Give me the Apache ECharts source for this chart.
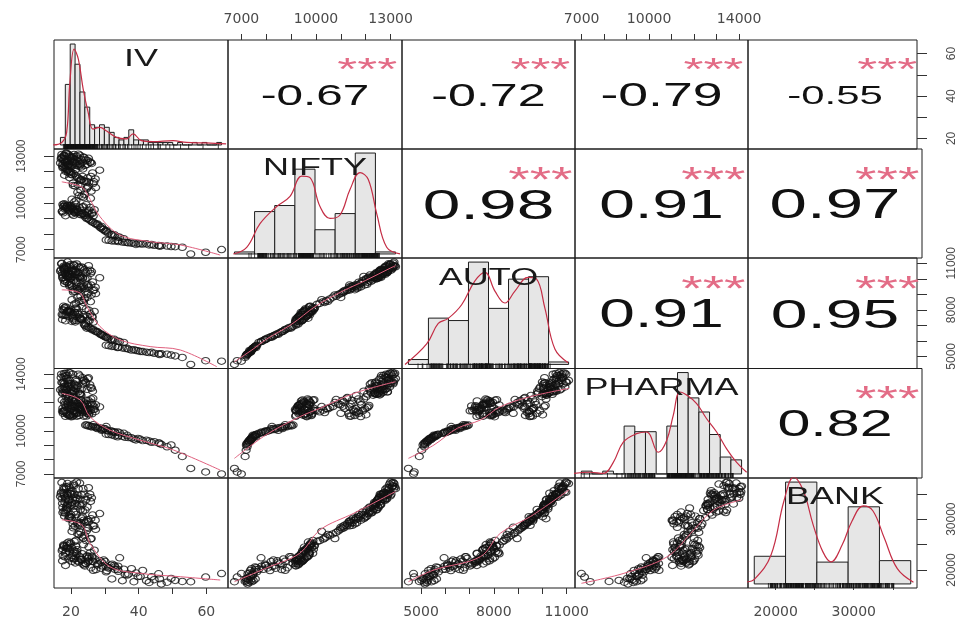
<!DOCTYPE html>
<html><head><meta charset="utf-8">
<script src="https://cdn.jsdelivr.net/npm/echarts@6/dist/echarts.min.js"></script>
<style>html,body{margin:0;padding:0;background:#fff}#c{width:958px;height:624px}</style>
</head><body><div id="c"></div>
<script>
// ---------- data ----------
const varNames = ['IV', 'NIFTY', 'AUTO', 'PHARMA', 'BANK'];

const iv = [18.2,17.6,19.1,20.3,18.9,17.4,19.6,21.2,20.5,18.0,17.3,18.6,19.4,20.8,22.1,21.5,22.8,19.9,18.4,17.9,20.1,21.7,18.8,19.3,23.4,17.8,20.6,19.0,22.5,18.1,21.0,24.2,19.7,17.2,
 24.8,25.6,23.9,22.6,24.4,26.1,17.5,18.5,23.0,25.2,21.9,20.2,22.2,16.9,
 19.5,20.8,18.3,21.6,22.4,23.8,17.9,19.2,24.6,20.1,18.7,21.9,28.5,20.4,19.8,23.1,17.6,22.7,18.9,25.3,
 25.9,24.0,26.4,22.1,20.6,23.5,27.2,18.1,21.2,19.6,
 21.5,23.2,22.0,24.6,20.7,25.8,22.9,26.5,24.0,21.0,27.3,23.7,25.1,
 18.2,19.6,21.3,17.8,20.5,22.7,24.1,18.9,19.3,20.9,23.5,17.6,21.8,25.4,18.5,20.2,22.3,26.6,19.0,21.1,23.9,18.0,20.7,22.0,19.4,24.8,17.9,21.6,20.0,23.0,
 26.9,25.7,24.5,17.5,17.7,18.4,19.9,21.4,22.9,26.2,18.6,20.8,23.3,25.0,
 24.3,25.4,25.9,27.1,27.4,28.6,28.9,30.1,30.6,31.8,32.2,33.9,34.4,35.6,26.6,29.7,
 25.0,26.3,28.0,29.4,31.0,33.0,
 30.4,32.1,33.0,35.2,36.0,37.9,38.6,40.5,41.2,43.1,43.8,45.9,46.7,49.6,50.8,52.9,
 31.2,34.0,37.0,39.8,44.6,
 55.4,59.8,64.5,
 19.2,20.4,18.3,21.8,23.1,17.9,19.8,22.7,24.9,18.7,20.9,25.8,17.1,21.3,23.6,19.0,
 20.0,22.9,18.5,24.9,21.4,26.8,19.3,23.4,
 22.4,26.0,20.3,24.8,
 19.1,21.0,23.7,18.3,20.3,25.3,22.5,17.4,24.4,19.7,26.3,21.7,18.8,23.2,
 24.7,27.8,30.4,32.8,29.1,
 33.8,36.6,39.2,42.3,46.2,48.4];
const nifty = [12420,12510,12380,12600,12720,12850,12930,12780,12650,13020,13110,13200,13080,12960,12870,12540,12450,12330,12690,12800,12890,13000,12560,12470,12610,12740,12820,13140,12360,12990,12580,12410,12700,12920,
 12480,12620,12910,13060,12750,12530,12380,13170,12300,12860,12670,12350,13130,12560,
 12050,11880,12210,11720,11560,11410,12280,12130,11350,11960,12170,11640,12100,11800,12010,11500,12250,11460,12070,11330,
 11700,11380,11920,11150,11260,12180,11540,11780,11090,11620,
 10150,10420,10680,10900,11120,10290,10810,11240,10560,10050,10980,10350,11060,
 9620,9480,9350,9780,9710,9260,9190,9850,9540,9430,9300,9900,9600,9220,9730,9660,9390,9170,9820,9510,9280,9940,9570,9450,9690,9330,9760,9410,9630,9240,
 9560,9710,9880,9470,9360,9180,9790,9920,9520,9310,9650,9200,9740,9420,
 9080,8930,8850,8690,8620,8440,8380,8190,8150,7990,7950,7810,7790,7700,8760,8290,
 9020,8760,8560,8310,8060,7880,
 7620,7560,7550,7480,7470,7410,7420,7370,7360,7300,7320,7260,7250,7200,7190,7150,
 7600,7520,7440,7390,7280,
 6720,6830,7000,
 12450,12880,12630,12390,12790,13050,12980,12510,12720,12330,13100,12600,12820,12440,12940,12710,
 11830,11450,12020,11600,12140,11350,11920,11700,
 10480,10760,10230,11000,
 9600,9400,9750,9870,9290,9530,9680,9460,9210,9810,9380,9580,9720,9330,
 8990,8650,8230,7960,8480,
 7580,7460,7330,7370,7220,7230];
const auto = [10340,10060,10110,10150,10600,10390,10800,10290,10550,10560,11000,10780,10700,10930,10420,10450,10010,10050,10340,10820,10530,10960,10180,10160,10090,10710,10440,11080,10080,10690,10570,10000,10300,10970,
 10060,10560,10580,10720,10380,10470,10240,10850,10170,10850,10290,10290,10790,10500,
 9650,9900,9830,9780,9300,9520,9920,10120,9600,9610,10240,9370,10070,9480,10010,9560,10100,9500,9780,9450,
 9610,9360,9800,9240,9290,10040,9460,9700,9180,9530,
 8420,8610,8820,8990,9150,8530,8870,9240,8700,8360,9050,8480,9100,
 7650,7880,7220,8230,7750,7490,7020,7890,7950,7310,7560,8010,7560,7290,8190,7660,7700,7210,7920,7850,7080,8100,7530,7820,7840,7590,7960,7310,8030,7400,
 7900,7740,8050,7380,7650,7300,7870,8120,7420,7580,7660,7420,8220,7290,
 6950,6860,6790,6640,6590,6450,6400,6260,6230,6110,6080,5970,5950,5900,6740,6320,
 6900,6710,6540,6350,6180,6010,
 5720,5640,5630,5540,5510,5410,5430,5320,5310,5240,5260,5170,5160,5080,5030,4930,
 5690,5580,5460,5360,5200,
 4480,4720,4690,
 10320,10480,10620,10050,10770,10650,10910,10180,10510,10230,10860,10350,10590,10410,10700,10450,
 9740,9390,9980,9620,9870,9280,10150,9450,
 8550,8960,8650,8800,
 7580,7830,7680,8150,7250,7970,7460,7700,7120,7920,7530,8070,7820,7360,
 6820,6600,6240,6100,6420,
 5570,5520,5380,5270,5120,5140];
const pharma = [13150,12700,13380,12620,13900,12980,13560,13250,12850,14050,13420,13700,14110,13100,12760,13620,12590,13020,12940,13820,13300,13480,12540,13210,13750,12880,13990,13560,12610,13330,12790,13450,12720,14000,
 12930,13260,13590,13870,13420,13010,12650,14060,12520,13740,13120,12700,13990,12900,
 11650,11420,12700,11250,11100,11050,13100,11800,11060,11560,12900,11320,11700,11020,11150,11480,13400,11950,12600,11230,
 12250,11900,12800,11600,12350,13300,11380,12050,11750,12500,
 11350,11580,11720,11900,12050,11480,12210,12300,11650,11450,11850,11300,12150,
 11880,11120,11650,11380,12180,11560,11420,11250,12030,11700,11790,11610,11050,11480,11300,12250,11930,11520,11150,12090,11760,11440,11200,11980,11080,11850,11360,12120,11010,11660,
 11520,11880,12160,11400,11250,11040,11970,12200,11480,11210,11690,11110,11830,11350,
 10420,10390,10310,10300,10240,10210,10140,10160,10050,10030,9950,9930,9870,9840,10440,10180,
 10360,10300,10260,10110,10000,9900,
 9780,9730,9660,9640,9560,9530,9440,9420,9330,9300,9210,9170,9060,9030,8660,8220,
 9760,9690,9550,9480,9250,
 7380,7130,6990,
 13350,12760,13900,13180,12950,13480,14080,12620,13680,12850,13320,13050,13760,12580,13540,13170,
 11850,12150,12420,11560,12980,11700,12250,11400,
 11560,12000,11720,11250,
 11920,11310,12030,11480,11780,11150,11600,12180,11420,11090,11860,11230,12110,11540,
 10430,10180,10320,9960,10060,
 9600,9700,9380,9350,9140,8900];
const bank = [33300,32300,32900,32800,35100,34000,36200,33700,34800,34900,37200,36000,36500,36900,34700,34200,31900,32700,33900,35900,35000,37300,32700,33800,33000,35200,34100,37000,32900,34600,34900,31800,35100,35300,
 32400,34900,34900,37100,33800,34200,33100,36400,32600,36200,34000,33300,36000,34500,
 30600,31400,31200,30900,29100,29800,31600,32200,29600,30300,32400,29300,31100,29800,30500,30200,31300,28800,31900,29500,
 30100,29300,30800,28800,29100,31600,29800,30600,28600,30300,
 25800,26500,27100,27700,28300,26100,27400,28700,26800,25600,28000,26300,28200,
 22600,23600,21400,24900,22900,22500,20800,25300,22200,23300,21200,24100,24000,21900,23500,24400,21600,21700,24400,23700,21000,24800,23900,21800,25500,22800,24600,23200,22500,22100,
 23900,23400,25800,21800,22800,20900,25300,24700,22100,22700,24300,22200,23200,21600,
 21300,22600,20450,22150,20100,21800,20350,21650,19900,20950,21150,20750,22400,20150,19950,21950,
 22250,21700,21250,20800,20400,20150,
 19650,18250,20600,17900,19150,20250,17700,18750,19900,17550,18650,19250,17260,18350,17950,17750,
 20450,19750,19200,18700,18100,
 17700,18600,19300,
 33600,35600,34300,32600,34800,36300,35400,33900,34400,32000,36600,33500,35000,33100,36000,34700,
 30900,29300,31700,29900,31400,28700,30100,30500,
 27000,26200,27600,28400,
 24200,22200,25000,23300,21700,24500,22700,23800,21300,25100,22500,23600,24800,22000,
 22600,21000,20700,20900,21500,
 20100,19000,19400,17900,18300,17600];

// correlation panels (upper triangle, row-major)
const corrPairs = [[0,1],[0,2],[0,3],[0,4],[1,2],[1,3],[1,4],[2,3],[2,4],[3,4]];
const corrValues = [-0.67,-0.72,-0.79,-0.55,0.98,0.91,0.97,0.91,0.95,0.82];
const corrStars = ['***','***','***','***','***','***','***','***','***','***'];

// histograms (breaks, counts) and density curves
const ivBreaks = [16,17.5,19,20.5,22,23.5,25,26.5,28,29.5,31,32.5,34,35.5,37,38.5,40,41.5,43,44.5,46,47.5,49,50.5,52,53.5,55,56.5,58,59.5,61,62.5,64,65.5];
const ivCounts = [3,24,40,32,21,15,8,7,8,7,5,3,2,3,6,2,2,2,1,1,1,1,1,0,1,0,0,1,0,1,0,0,1];
const ivDensity = [[13.8,0],[16.4,1],[17.9,5],[18.9,24.8],[20.2,38],[21.5,34],[23,22],[24.5,13],[26,6.3],[28.1,7],[30.2,5.5],[33.2,3],[36.3,2.4],[38.3,4.4],[40.9,1.7],[44.4,1.3],[50.6,1.7],[54.7,1],[60.8,0.8],[66.9,0.4]];
const niftyBreaks = [6000,7000,8000,9000,10000,11000,12000,13000,14000];
const niftyCounts = [1,21,24,42,12,20,50,1];
const niftyDensity = [[5943,0],[6609,3.3],[7269,15],[8098,23.5],[8759,28.5],[9340,38.6],[9752,37.8],[10249,23.5],[10745,17.6],[11242,19.3],[11738,31.9],[12235,40.3],[12647,36.9],[13064,20],[13561,3.3],[14222,0]];
const autoBreaks = [4000,5000,6000,7000,8000,9000,10000,11000,12000];
const autoCounts = [2,19,18,42,23,35,36,1];
const autoDensity = [[3830,0],[4912,8.4],[5491,16.8],[5990,18.9],[6659,24.5],[7323,34.3],[7822,37.8],[8321,30.1],[8820,25.2],[9319,30.1],[9982,35.7],[10402,35],[10816,23.1],[11315,6.3],[11978,0.7]];
const pharmaBreaks = [7000,7500,8000,8500,9000,9500,10000,10500,11000,11500,12000,12500,13000,13500,14000,14500];
const pharmaCounts = [1,0,1,0,17,15,15,0,17,36,27,22,14,6,5];
const pharmaDensity = [[6466,0],[7402,0.6],[8025,0.2],[8493,4.1],[8961,11.3],[9588,14.3],[10056,14.9],[10598,7.7],[10992,11.9],[11300,20.8],[11614,29.1],[11928,28],[12396,25],[12864,19.6],[13332,14.9],[13800,8.9],[14268,4.1],[14736,0.6]];
const bankBreaks = [15000,20000,25000,30000,35000,40000];
const bankCounts = [19,70,15,53,16];
const bankDensity = [[13534,1.2],[15086,3.5],[17678,19.9],[19742,57],[21294,73.4],[22846,64],[24398,40.8],[25950,22.2],[27243,15.2],[29054,26.9],[30606,43.1],[32422,53.6],[33974,50.1],[35774,31.5],[37854,10.5],[40430,1.2]];

// smoothing lines in the scatter panels
const smoothIvNifty = [[17.3,11350],[23.2,11030],[24.7,10610],[28.6,9110],[34.5,7940],[43.4,7510],[52.3,7300],[64.1,6650]];
const smoothIvAuto = [[17.3,9290],[22.7,9080],[24.7,8210],[28.6,6920],[34.5,6060],[43.4,5630],[52.3,5410],[63.1,4330]];
const smoothIvPharma = [[17.3,12650],[22.7,12190],[25.6,11010],[31.5,10070],[40.4,9370],[50.3,8670],[64.1,7260]];
const smoothIvBank = [[17.3,29870],[23.2,28880],[25.6,25270],[31.5,20650],[40.4,19350],[52.3,18680],[64.1,18030]];
const smoothNiftyAuto = [[6720,4650],[7500,5500],[8000,6100],[9000,7050],[10000,8250],[11000,9150],[12000,9900],[13000,10700],[13200,10850]];
const smoothNiftyPharma = [[6720,8085],[7980,9720],[9350,11010],[10160,11600],[11530,12650],[13200,13470]];
const smoothNiftyBank = [[6720,17700],[7980,20340],[9350,23300],[10160,27890],[11530,31190],[13200,35450]];
const smoothAutoPharma = [[4480,8085],[5530,9020],[6500,10200],[7450,10780],[8270,11710],[9510,12420],[11100,13000]];
const smoothAutoBank = [[4480,17700],[5530,20000],[7450,22630],[8270,27240],[9510,30520],[11100,35780]];
const smoothPharmaBank = [[6990,17380],[8880,19350],[10810,22630],[11990,27890],[12880,31840],[14100,33810]];

// axis ticks and labels
const ivTicks = [20,30,40,50,60];
const ivTickLabels = [20,40,60];
const niftyTicks = [7000,8000,9000,10000,11000,12000,13000];
const niftyTickLabels = [7000,10000,13000];
const autoTicks = [5000,6000,7000,8000,9000,10000,11000];
const autoTickLabels = [5000,8000,11000];
const pharmaTicks = [7000,8000,9000,10000,11000,12000,13000,14000];
const pharmaTickLabels = [7000,10000,14000];
const bankTicks = [20000,25000,30000,35000];
const bankTickLabels = [20000,30000];

// ---------- layout ----------
const colEdges = [54, 228, 402, 575, 748, 922];
const rowEdges = [40, 149, 258, 368.5, 478, 588];
const LABEL_STRETCH = 1.5;
const NUM_STRETCH = 1.6;

const allVars = [iv, nifty, auto, pharma, bank];
const ticksList = [ivTicks, niftyTicks, autoTicks, pharmaTicks, bankTicks];
const labelsList = [ivTickLabels, niftyTickLabels, autoTickLabels, pharmaTickLabels, bankTickLabels];
const hists = [
  {b: ivBreaks, n: ivCounts, d: ivDensity},
  {b: niftyBreaks, n: niftyCounts, d: niftyDensity},
  {b: autoBreaks, n: autoCounts, d: autoDensity},
  {b: pharmaBreaks, n: pharmaCounts, d: pharmaDensity},
  {b: bankBreaks, n: bankCounts, d: bankDensity}
];
const smooths = {
  '1-0': smoothIvNifty, '2-0': smoothIvAuto, '3-0': smoothIvPharma, '4-0': smoothIvBank,
  '2-1': smoothNiftyAuto, '3-1': smoothNiftyPharma, '4-1': smoothNiftyBank,
  '3-2': smoothAutoPharma, '4-2': smoothAutoBank, '4-3': smoothPharmaBank
};

function rng(a) { const mn = Math.min(...a), mx = Math.max(...a), d = mx - mn; return [mn - 0.04 * d, mx + 0.04 * d]; }
const ranges = allVars.map(rng);

const hiddenAxis = () => ({type: 'value', axisLine: {show: false}, axisTick: {show: false}, axisLabel: {show: false}, splitLine: {show: false}});
const fmt = v => String(v);

const grids = [], xAxes = [], yAxes = [], series = [], graphics = [];

for (let r = 0; r < 5; r++) {
  for (let c = 0; c < 5; c++) {
    const gi = r * 5 + c;
    grids.push({left: colEdges[c], top: rowEdges[r], width: colEdges[c + 1] - colEdges[c], height: rowEdges[r + 1] - rowEdges[r],
      show: true, borderColor: '#1c1c1c', borderWidth: 1, backgroundColor: 'rgba(0,0,0,0)'});
    const xa = Object.assign(hiddenAxis(), {gridIndex: gi, min: ranges[c][0], max: ranges[c][1], position: r === 0 ? 'top' : 'bottom'});
    if ((r === 4 && c % 2 === 0) || (r === 0 && c % 2 === 1)) {
      xa.axisTick = {show: true, inside: false, length: 6, lineStyle: {color: '#333', width: 1}, customValues: ticksList[c]};
      xa.axisLabel = {show: true, customValues: labelsList[c], margin: r === 0 ? 14 : 17, color: '#4a4a4a', fontFamily: 'DejaVu Sans', fontSize: 14, formatter: fmt};
    }
    const ya = Object.assign(hiddenAxis(), {gridIndex: gi, min: ranges[r][0], max: ranges[r][1], position: c === 0 ? 'left' : 'right'});
    if ((c === 0 && r % 2 === 1) || (c === 4 && r % 2 === 0)) {
      ya.axisTick = {show: true, inside: false, length: 10, lineStyle: {color: '#333', width: 1}, customValues: ticksList[r]};
      ya.axisLabel = {show: true, customValues: labelsList[r], rotate: 90, margin: c === 0 ? 26 : 29, color: '#4a4a4a', fontFamily: 'Liberation Sans', fontSize: 12, formatter: fmt};
    }
    xAxes.push(xa); yAxes.push(ya);
  }
}

// scatter panels (lower triangle)
for (let r = 1; r < 5; r++) {
  for (let c = 0; c < r; c++) {
    const gi = r * 5 + c;
    series.push({type: 'scatter', xAxisIndex: gi, yAxisIndex: gi, silent: true, symbol: 'circle', symbolSize: [8, 6.5],
      itemStyle: {color: 'rgba(0,0,0,0)', borderColor: '#111', borderWidth: 1.1},
      data: allVars[c].map((v, i) => [v, allVars[r][i]])});
    series.push({type: 'line', xAxisIndex: gi, yAxisIndex: gi, silent: true, showSymbol: false, smooth: 0.35,
      lineStyle: {color: '#e0607e', width: 1}, data: smooths[r + '-' + c], z: 3});
  }
}

// histogram panels (diagonal)
for (let k = 0; k < 5; k++) {
  const gi = k * 6;
  const h = hists[k];
  const span = h.b[h.b.length - 1] - h.b[0];
  const M = Math.max(...h.n);
  const hx = xAxes.length, hy = yAxes.length;
  xAxes.push(Object.assign(hiddenAxis(), {gridIndex: gi, min: h.b[0] - 0.04 * span, max: h.b[h.b.length - 1] + 0.04 * span}));
  yAxes.push(Object.assign(hiddenAxis(), {gridIndex: gi, min: -0.04 * M, max: 1.04 * M}));
  series.push({type: 'custom', xAxisIndex: hx, yAxisIndex: hy, silent: true,
    data: h.n.map((n, i) => [h.b[i], h.b[i + 1], n]),
    encode: {x: [0, 1], y: 2},
    renderItem: function (params, api) {
      const a = api.coord([api.value(0), api.value(2)]);
      const b = api.coord([api.value(1), 0]);
      return {type: 'rect', shape: {x: a[0], y: a[1], width: b[0] - a[0], height: b[1] - a[1]},
        style: {fill: '#e6e6e6', stroke: '#1e1e1e', lineWidth: 1}};
    }});
  series.push({type: 'line', xAxisIndex: hx, yAxisIndex: hy, silent: true, showSymbol: false, smooth: 0.4, clip: true,
    lineStyle: {color: '#c42d45', width: 1.2}, data: h.d, z: 4});
  series.push({type: 'scatter', xAxisIndex: hx, yAxisIndex: hy, silent: true, symbol: 'rect', symbolSize: [1, 5], symbolOffset: [0, -2.5],
    itemStyle: {color: '#111'}, data: allVars[k].map(v => [v, -0.04 * M])});
  // variable name
  graphics.push({type: 'text', silent: true, x: (colEdges[k] + colEdges[k + 1]) / 2, y: rowEdges[k] + 0.18 * (rowEdges[k + 1] - rowEdges[k]),
    scaleX: LABEL_STRETCH, z: 100,
    style: {text: varNames[k], font: '24px "Liberation Sans"', fill: '#1a1a1a', align: 'center', verticalAlign: 'middle', textAlign: 'center', textVerticalAlign: 'middle'}});
}

// correlation panels (upper triangle)
corrPairs.forEach(([r, c], i) => {
  const v = corrValues[i];
  const base = v < 0 ? 40 : 43;
  const size = base * (Math.abs(v) + 0.3) / 1.3;
  const starSize = base * 0.8;
  const x0 = colEdges[c], x1 = colEdges[c + 1], y0 = rowEdges[r], y1 = rowEdges[r + 1];
  graphics.push({type: 'text', silent: true, x: (x0 + x1) / 2, y: (y0 + y1) / 2 + 0.08 * size, scaleX: NUM_STRETCH, z: 100,
    style: {text: v.toFixed(2), font: size.toFixed(1) + 'px "Liberation Sans"', fill: '#111', align: 'center', verticalAlign: 'middle', textAlign: 'center', textVerticalAlign: 'middle'}});
  graphics.push({type: 'text', silent: true, x: x0 + 0.8 * (x1 - x0), y: y1 - 0.8 * (y1 - y0) + 0.3 * starSize, scaleX: NUM_STRETCH, z: 100,
    style: {text: corrStars[i], font: starSize.toFixed(1) + 'px "Liberation Sans"', fill: '#e36c86', align: 'center', verticalAlign: 'middle', textAlign: 'center', textVerticalAlign: 'middle'}});
});

const chart = echarts.init(document.getElementById('c'), null, {renderer: 'canvas'});
chart.setOption({animation: false, backgroundColor: '#fff', grid: grids, xAxis: xAxes, yAxis: yAxes, series: series, graphic: {elements: graphics}});
</script></body></html>
